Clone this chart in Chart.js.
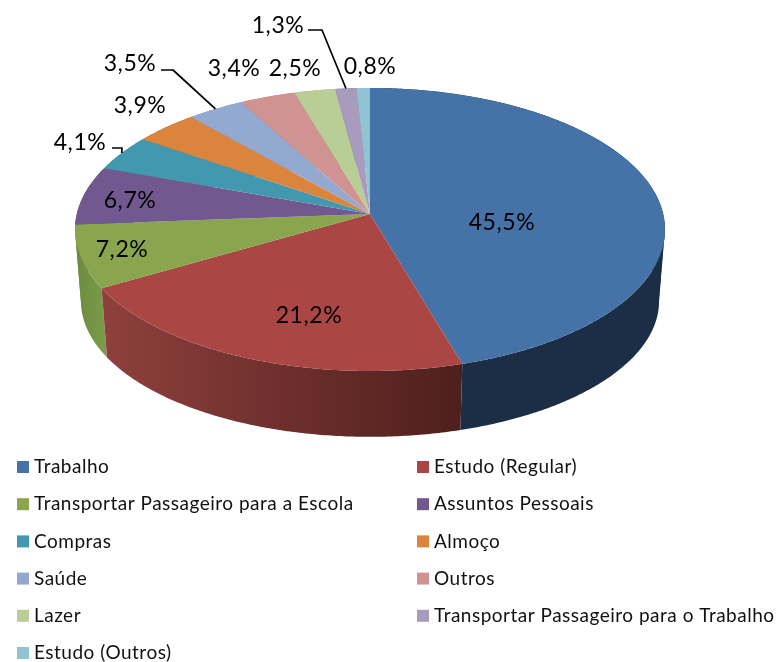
<!DOCTYPE html>
<html><head><meta charset="utf-8">
<style>html,body{margin:0;padding:0;background:#fff}canvas{display:block}</style>
<script src="https://cdn.jsdelivr.net/npm/chart.js@4"></script>
</head><body>
<canvas id="c" width="778" height="662"></canvas>
<script>
const categories = ["Trabalho","Estudo (Regular)","Transportar Passageiro para a Escola","Assuntos Pessoais","Compras","Almoço","Saúde","Outros","Lazer","Transportar Passageiro para o Trabalho","Estudo (Outros)"];
const values = [45.5,21.2,7.2,6.7,4.1,3.9,3.5,3.4,2.5,1.3,0.8];
const colors = ["#4572A7","#AA4643","#89A54E","#71588F","#4198AF","#DB843D","#93A9CF","#D19392","#B9CD96","#A99BBD","#92C3D4"];
const sideLeft = ["#1C2E46","#8F403D","#6C8A3E","#5A4672","#34798C","#AF6A31","#7587A5","#A77675","#94A478","#877C97","#749CAA"];
const sideRight = ["#1C2E46","#4E1F1C","#7C9C4C","#5A4672","#34798C","#AF6A31","#7587A5","#A77675","#94A478","#877C97","#749CAA"];

// Projection of the unit disc to the tilted, perspective top face
const P = {cx:370, cy:214, R:293.2, B:139.8, k:-0.1095};
function topRim(a){const u=Math.cos(a),v=Math.sin(a),w=1+P.k*v;return [P.cx+P.R*u/w,P.cy+P.B*v/w];}
function lowRim(a){const p=topRim(a);return [370+(p[0]-370)*0.98,301+(p[1]-229.5)*0.96];}
function tracePath(ctx,fn,a0,a1,first){const n=Math.max(2,Math.ceil(Math.abs(a1-a0)/0.01));
  for(let i=0;i<=n;i++){const p=fn(a0+(a1-a0)*i/n);(i===0&&first)?ctx.moveTo(p[0],p[1]):ctx.lineTo(p[0],p[1]);}}

// Every arc draws itself as a slice of the projected disc
Chart.ArcElement.prototype.draw=function(ctx){
  const o=this.options,a0=this.startAngle,a1=this.endAngle;
  ctx.save();ctx.beginPath();ctx.moveTo(P.cx,P.cy);tracePath(ctx,topRim,a0,a1,false);ctx.closePath();
  ctx.fillStyle=o.backgroundColor;ctx.fill();ctx.restore();
};

const labelStyle = {font:'23px Lato', spacing:'0.6px', color:'#000'};
const labelSpots = [[502,223],[309,316],[122,250],[130,201],[80,143],[140,106],[130,64],[234,69],[295,69],[278,26],[370,67]];
const leaders = {4:[[112,148],[122,148]],6:[[161,70],[173,70]],9:[[308,30],[322,30]]};
const legendSpots = {col:[17,417], row0:467, rowStep:37.2, box:12, gap:5, font:'19px Lato', spacing:'0.5px', color:'#111'};

const depth3d={id:'depth3d',beforeDatasetsDraw(chart){
  const ctx=chart.ctx,arcs=chart.getDatasetMeta(0).data;
  // angles where the rim turns back: the band must reach its silhouette there
  const turn=Math.asin(-P.k),turns=[turn,Math.PI-turn];
  ctx.save();
  for(let i=arcs.length-1;i>=0;i--){
    const a0=arcs[i].startAngle,a1=arcs[i].endAngle;
    const xs=[];for(let t=0;t<=20;t++){const a=a0+(a1-a0)*t/20;xs.push(topRim(a)[0],lowRim(a)[0]);}
    const g=ctx.createLinearGradient(Math.min(...xs),0,Math.max(...xs),0);
    g.addColorStop(0,sideLeft[i]);g.addColorStop(1,sideRight[i]);
    ctx.fillStyle=g;
    const stops=[a0,...turns.filter(t=>t>a0&&t<a1),a1];
    for(let s=0;s<stops.length-1;s++){
      const b0=s>0?stops[s]-0.02:stops[s],b1=stops[s+1];
      ctx.beginPath();tracePath(ctx,topRim,b0,b1,true);tracePath(ctx,lowRim,b1,b0,false);ctx.closePath();ctx.fill();
    }
  }
  ctx.restore();
}};

const annotate={id:'annotate',afterDatasetsDraw(chart){
  const ctx=chart.ctx,arcs=chart.getDatasetMeta(0).data;
  ctx.save();
  ctx.strokeStyle='#000';ctx.lineWidth=1.7;ctx.lineJoin='round';
  Object.keys(leaders).forEach(k=>{const el=arcs[k],m=topRim((el.startAngle+el.endAngle)/2),pts=leaders[k];
    ctx.beginPath();ctx.moveTo(pts[0][0],pts[0][1]);ctx.lineTo(pts[1][0],pts[1][1]);ctx.lineTo(m[0],m[1]);ctx.stroke();});
  ctx.font=labelStyle.font;ctx.letterSpacing=labelStyle.spacing;ctx.fillStyle=labelStyle.color;ctx.textAlign='center';ctx.textBaseline='middle';
  values.forEach((v,i)=>{ctx.fillText(v.toFixed(1).replace('.',',')+'%',labelSpots[i][0],labelSpots[i][1]);});
  ctx.font=legendSpots.font;ctx.letterSpacing=legendSpots.spacing;ctx.textAlign='left';
  chart.options.plugins.legend.labels.generateLabels(chart).forEach((it,i)=>{
    const x=legendSpots.col[i%2],y=legendSpots.row0+legendSpots.rowStep*Math.floor(i/2),b=legendSpots.box;
    ctx.fillStyle=it.fillStyle;ctx.fillRect(x,y-b/2,b,b);
    ctx.fillStyle=legendSpots.color;ctx.fillText(it.text,x+b+legendSpots.gap,y);
  });
  ctx.restore();
}};

new Chart(document.getElementById('c'),{
  type:'pie',
  data:{labels:categories,datasets:[{data:values,backgroundColor:colors,borderWidth:0}]},
  options:{responsive:false,animation:false,
    plugins:{legend:{display:false},tooltip:{enabled:false},title:{display:false}}},
  plugins:[depth3d,annotate]
});
</script>
</body></html>
